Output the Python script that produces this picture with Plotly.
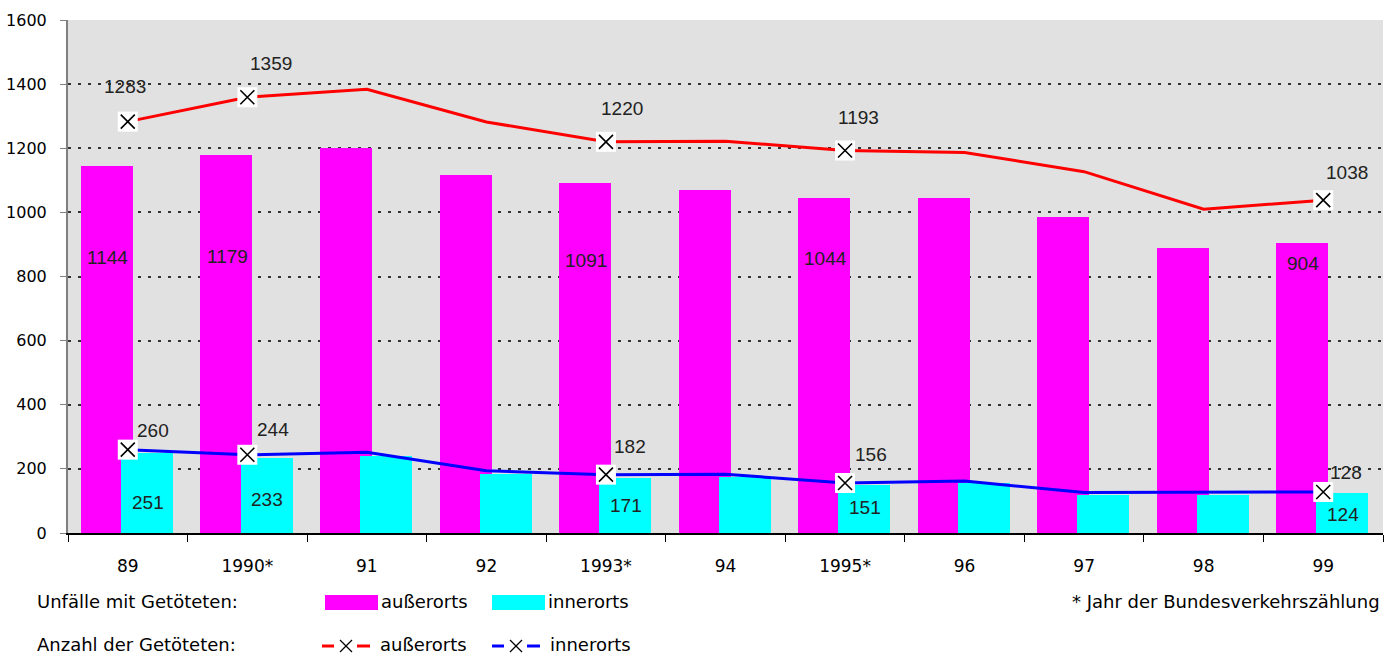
import plotly.graph_objects as go

years = ["89", "1990*", "91", "92", "1993*", "94", "1995*", "96", "97", "98", "99"]
unf_ausser = [1144, 1179, 1202, 1117, 1091, 1070, 1044, 1045, 987, 890, 904]
unf_inner = [251, 233, 240, 184, 171, 176, 151, 157, 117, 117, 124]
tote_ausser = [1283, 1359, 1384, 1282, 1220, 1222, 1193, 1187, 1127, 1010, 1038]
tote_inner = [260, 244, 252, 194, 182, 183, 156, 162, 126, 127, 128]
labelled = [0, 1, 4, 6, 10]
y_ticks = [0, 200, 400, 600, 800, 1000, 1200, 1400, 1600]

MAG = "#FF00FF"
CYA = "#00FFFF"
RED = "#FF0000"
BLU = "#0000FF"
AX_FONT = "DejaVu Sans"
LBL = dict(family="Liberation Sans Narrow, Liberation Sans", size=19, color="#222222")

xi = list(range(len(years)))

fig = go.Figure()
BW = 0.435
fig.add_trace(go.Bar(x=years, y=unf_ausser, marker=dict(color=MAG, line=dict(width=0)),
                     width=BW, offset=-0.392, showlegend=False))
fig.add_trace(go.Bar(x=years, y=unf_inner, marker=dict(color=CYA, line=dict(width=0)),
                     width=BW, offset=-0.057, showlegend=False))
fig.add_trace(go.Scatter(x=years, y=tote_ausser, mode="lines", line=dict(color=RED, width=3),
                         showlegend=False))
fig.add_trace(go.Scatter(x=years, y=tote_inner, mode="lines", line=dict(color=BLU, width=3),
                         showlegend=False))
mx = [years[i] for i in labelled]
for vals in (tote_ausser, tote_inner):
    my = [vals[i] for i in labelled]
    fig.add_trace(go.Scatter(x=mx, y=my, mode="markers", showlegend=False, cliponaxis=False,
                             marker=dict(symbol="square", size=20, color="white", line=dict(width=0))))
    fig.add_trace(go.Scatter(x=mx, y=my, mode="markers", showlegend=False, cliponaxis=False,
                             marker=dict(symbol="x-thin-open", size=14, color="black",
                                         line=dict(width=1.6, color="black"))))

# value labels (pixel offsets from the data point)
line_a_off = [(-3, 35), (24, 34), (16, 33), (13, 33), (24, 28)]
line_i_off = [(25, 19), (26, 25), (24, 28), (26, 28), (23, 19)]
bar_a_y = [860, 862, 850, 855, 842]
bar_i_y = [94, 103, 87, 78, 59]
ann = []
for k, i in enumerate(labelled):
    ann.append(dict(x=xi[i], y=tote_ausser[i], xref="x", yref="y", text=str(tote_ausser[i]),
                    showarrow=False, xshift=line_a_off[k][0], yshift=line_a_off[k][1], font=LBL))
    ann.append(dict(x=xi[i], y=tote_inner[i], xref="x", yref="y", text=str(tote_inner[i]),
                    showarrow=False, xshift=line_i_off[k][0], yshift=line_i_off[k][1], font=LBL))
    ann.append(dict(x=xi[i], y=bar_a_y[k], xref="x", yref="y", text=str(unf_ausser[i]),
                    showarrow=False, xshift=-20, font=LBL))
    ann.append(dict(x=xi[i], y=bar_i_y[k], xref="x", yref="y", text=str(unf_inner[i]),
                    showarrow=False, xshift=20, font=LBL))

# custom legend
W, H = 1394, 657
L, R, T, B = 68, 11, 20, 124
pw, ph = W - L - R, H - T - B


def px(x):
    return (x - L) / pw


def py(y):
    return (H - B - y) / ph


LEG = dict(family=AX_FONT, size=18, color="#000000")
shapes = []


def text(x, y, t, anchor="left"):
    ann.append(dict(x=px(x), y=py(y), xref="paper", yref="paper", text=t, showarrow=False,
                    xanchor=anchor, yanchor="middle", font=LEG))


text(35, 601, "Unfälle mit Getöteten:")
text(35, 644, "Anzahl der Getöteten:")
text(1382, 601, "* Jahr der Bundesverkehrszählung", "right")
for x0, col, txt in ((325, MAG, "außerorts"), (492, CYA, "innerorts")):
    shapes.append(dict(type="rect", xref="paper", yref="paper", x0=px(x0), x1=px(x0 + 53),
                       y0=py(610), y1=py(595), fillcolor=col, line=dict(width=0)))
    text(x0 + 54, 601, txt)
for x0, col, txt in ((322, RED, "außerorts"), (492, BLU, "innerorts")):
    yy = py(646)
    shapes.append(dict(type="line", xref="paper", yref="paper", x0=px(x0), x1=px(x0 + 12),
                       y0=yy, y1=yy, line=dict(color=col, width=3)))
    shapes.append(dict(type="line", xref="paper", yref="paper", x0=px(x0 + 35), x1=px(x0 + 48),
                       y0=yy, y1=yy, line=dict(color=col, width=3)))
    cx = x0 + 24
    shapes.append(dict(type="line", xref="paper", yref="paper", x0=px(cx - 6), x1=px(cx + 6),
                       y0=py(640), y1=py(652), line=dict(color="black", width=1.3)))
    shapes.append(dict(type="line", xref="paper", yref="paper", x0=px(cx - 6), x1=px(cx + 6),
                       y0=py(652), y1=py(640), line=dict(color="black", width=1.3)))
    text(x0 + 56, 644, txt)

fig.update_layout(
    width=W, height=H, margin=dict(l=L, r=R, t=T, b=B, autoexpand=False),
    paper_bgcolor="white", plot_bgcolor="#E1E1E1",
    barmode="overlay", bargap=0,
    font=dict(family=AX_FONT, size=16, color="#000000"),
    annotations=ann, shapes=shapes, showlegend=False,
    xaxis=dict(type="category", tickson="boundaries", ticks="outside", ticklen=7,
               tickcolor="#000000", showline=True, linecolor="#000000", linewidth=1.5,
               showgrid=False, tickfont=dict(family=AX_FONT, size=17), range=[-0.5, 10.5],
               ticklabelstandoff=17, automargin=False),
    yaxis=dict(range=[0, 1600], tickvals=y_ticks, ticks="outside", ticklen=6,
               tickcolor="#808080", showline=True, linecolor="#808080", linewidth=2,
               showgrid=True, gridcolor="#333333", gridwidth=2, griddash="3px,7px",
               zeroline=False, tickfont=dict(family=AX_FONT, size=16), ticklabelstandoff=10,
               automargin=False),
)

fig.write_html("out.html")
